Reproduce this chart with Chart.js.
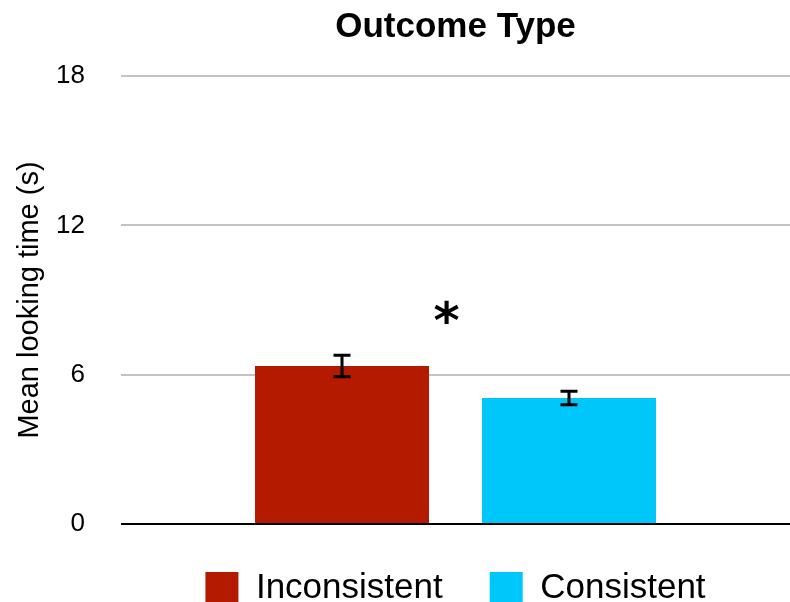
<!DOCTYPE html>
<html>
<head>
<meta charset="utf-8">
<script src="https://cdn.jsdelivr.net/npm/chart.js@4/dist/chart.umd.min.js"></script>
<style>
  html, body { margin: 0; padding: 0; background: #fff; }
  #wrap { width: 790px; height: 602px; }
</style>
</head>
<body>
<div id="wrap"><canvas id="c" width="790" height="602"></canvas></div>
<script>
// Mean looking time per outcome type, with standard error
const categories = [''];
const seriesNames = ['Inconsistent', 'Consistent'];
const inconsistentMean = [6.35];
const consistentMean = [5.06];
const inconsistentErr = [0.43];
const consistentErr = [0.27];
const yTicks = [0, 6, 12, 18];
const significanceMark = '*';
const significanceLevel = [8.5];

const FONT = '"Liberation Sans", Arial, Helvetica, sans-serif';
const STAR_FONT = '"DejaVu Sans", "Liberation Sans", sans-serif';

// Error whiskers with caps, drawn on top of the bars
const errorBars = {
  id: 'errorBars',
  afterDatasetsDraw(chart) {
    const ctx = chart.ctx;
    const y = chart.scales.y;
    chart.data.datasets.forEach((ds, i) => {
      const meta = chart.getDatasetMeta(i);
      meta.data.forEach((bar, j) => {
        const v = ds.data[j], e = ds.errors[j];
        const top = y.getPixelForValue(v + e);
        const bot = y.getPixelForValue(v - e);
        const half = 8.5;
        ctx.save();
        ctx.strokeStyle = '#000';
        ctx.lineWidth = 3;
        ctx.beginPath();
        ctx.moveTo(bar.x, top); ctx.lineTo(bar.x, bot);
        ctx.moveTo(bar.x - half, top); ctx.lineTo(bar.x + half, top);
        ctx.moveTo(bar.x - half, bot); ctx.lineTo(bar.x + half, bot);
        ctx.stroke();
        ctx.restore();
      });
    });
  }
};

// Significance star between the two bars, centred on its level
const starMark = {
  id: 'starMark',
  afterDatasetsDraw(chart) {
    const ctx = chart.ctx;
    const a = chart.getDatasetMeta(0).data[0];
    const b = chart.getDatasetMeta(1).data[0];
    const x = (a.x + b.x) / 2 - 9;
    const yPix = chart.scales.y.getPixelForValue(significanceLevel[0]);
    ctx.save();
    ctx.fillStyle = '#000';
    ctx.font = 'bold 50px ' + STAR_FONT;
    ctx.textAlign = 'center';
    ctx.textBaseline = 'alphabetic';
    const m = ctx.measureText(significanceMark);
    const off = (m.actualBoundingBoxAscent - m.actualBoundingBoxDescent) / 2;
    ctx.fillText(significanceMark, x, yPix + off);
    ctx.restore();
  }
};

new Chart(document.getElementById('c'), {
  type: 'bar',
  data: {
    labels: categories,
    datasets: [
      { label: seriesNames[0], data: inconsistentMean, errors: inconsistentErr,
        backgroundColor: '#b41a00', borderWidth: 0 },
      { label: seriesNames[1], data: consistentMean, errors: consistentErr,
        backgroundColor: '#00c7f9', borderWidth: 0 }
    ]
  },
  options: {
    responsive: false,
    animation: false,
    categoryPercentage: 0.6786,
    barPercentage: 0.7665,
    layout: { padding: { left: 0, right: 0, top: 0, bottom: 0 } },
    plugins: {
      tooltip: { enabled: false },
      title: {
        display: true,
        text: 'Outcome Type',
        fullSize: false,
        color: '#000',
        font: { family: FONT, size: 35, weight: 'bold', lineHeight: 1.2 },
        padding: { top: 6, bottom: 28 }
      },
      legend: {
        position: 'bottom',
        fullSize: false,
        maxHeight: 78,
        labels: {
          color: '#000',
          boxWidth: 33,
          boxHeight: 33,
          padding: 47,
          font: { family: FONT, size: 35 }
        }
      }
    },
    scales: {
      x: { display: false },
      y: {
        min: yTicks[0],
        max: yTicks[yTicks.length - 1],
        afterBuildTicks(scale) { scale.ticks = yTicks.map(v => ({ value: v })); },
        afterFit(scale) { scale.width = 121; },
        border: { display: false },
        grid: {
          drawTicks: false,
          lineWidth: 2,
          color: (c) => c.tick && c.tick.value === 0 ? '#000' : '#c4c4c4'
        },
        ticks: {
          padding: 36,
          color: '#000',
          font: { family: FONT, size: 26 }
        },
        title: {
          display: true,
          text: 'Mean looking time (s)',
          color: '#000',
          font: { family: FONT, size: 29, lineHeight: 1.2 },
          padding: { top: 13, bottom: 0 }
        }
      }
    }
  },
  plugins: [errorBars, starMark]
});
</script>
</body>
</html>
